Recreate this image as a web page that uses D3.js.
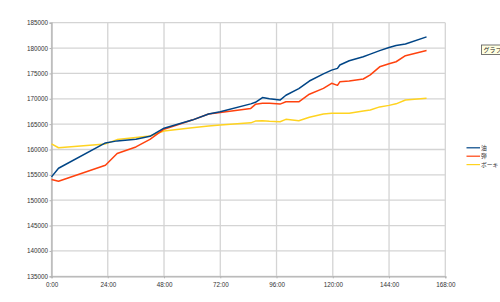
<!DOCTYPE html>
<html>
<head>
<meta charset="utf-8">
<script src="https://cdn.jsdelivr.net/npm/d3@7"></script>
<style>
  body { margin: 0; background: #fff; }
  svg { display: block; font-family: 'Liberation Sans', 'DejaVu Sans', sans-serif; }
</style>
</head>
<body>
<script>
// Data (hours, resource amounts)
const hours = [0, 3, 23, 28, 36, 42, 48, 60, 67, 72, 85, 87, 90, 93, 97.5, 100, 105.5, 110,
  116, 119.5, 122, 123, 127, 133, 136, 140, 144, 147, 151, 160];
const fuel = [154600, 156300, 161300, 161700, 162000, 162600, 164200, 165800, 167000, 167450,
  169000, 169300, 170250, 170000, 169750, 170700, 172000, 173500, 174900, 175650, 176000,
  176650, 177500, 178300, 178800, 179500, 180100, 180500, 180800, 182200];
const ammo = [154100, 153750, 156900, 159200, 160500, 162000, 164000, 165800, 167000, 167300,
  168100, 168900, 169100, 169100, 168950, 169400, 169400, 170900, 172050, 173050, 172650,
  173350, 173500, 173900, 174700, 176300, 176900, 177300, 178500, 179500];
const baux = [161100, 160350, 161100, 161950, 162350, 162650, 163650, 164300, 164650, 164850,
  165250, 165600, 165650, 165550, 165480, 165950, 165680, 166350, 167000, 167150, 167130,
  167130, 167150, 167600, 167800, 168400, 168700, 169000, 169750, 170100];
const seriesNames = ['油', '弾', 'ボーキ'];
const seriesColors = ['#004586', '#ff420e', '#ffd320'];
const xTicks = [0, 24, 48, 72, 96, 120, 144, 168];
const yTicks = [135000, 140000, 145000, 150000, 155000, 160000, 165000, 170000, 175000, 180000, 185000];

const width = 500, height = 302;
const svg = d3.select('body').append('svg').attr('width', width).attr('height', height);

const x = d3.scaleLinear().domain([0, 168]).range([51.5, 445.3]);
const y = d3.scaleLinear().domain([135000, 185000]).range([276.3, 22.7]);

// Grid lines
svg.append('g')
  .selectAll('line.h')
  .data(yTicks)
  .enter()
  .append('line')
  .attr('x1', x(0)).attr('x2', x(168))
  .attr('y1', (d) => y(d)).attr('y2', (d) => y(d))
  .attr('stroke', '#d4d4d4')
  .attr('stroke-width', 1.3);

svg.append('g')
  .selectAll('line.v')
  .data(xTicks)
  .enter()
  .append('line')
  .attr('x1', (d) => x(d)).attr('x2', (d) => x(d))
  .attr('y1', y(185000)).attr('y2', y(135000))
  .attr('stroke', '#d4d4d4')
  .attr('stroke-width', 1.3);

// Axes
const xAxis = d3.axisBottom(x)
  .tickValues(xTicks)
  .tickSize(2)
  .tickFormat((d) => d + ':00');
const yAxis = d3.axisLeft(y)
  .tickValues(yTicks)
  .tickSize(2)
  .tickFormat((d) => d);

const gx = svg.append('g').attr('transform', `translate(0,${y(135000)})`).call(xAxis);
const gy = svg.append('g').attr('transform', `translate(${x(0)},0)`).call(yAxis);
[gx, gy].forEach((g) => {
  g.select('.domain').attr('stroke', '#b3b3b3').attr('stroke-width', 1.3);
  g.selectAll('.tick line').attr('stroke', '#b3b3b3');
  g.selectAll('.tick text')
    .attr('fill', '#333')
    .style('font-size', '6.3px')
    .style('font-family', "'Liberation Sans', sans-serif");
});
gx.selectAll('.tick text').attr('dy', '0.95em');
gy.selectAll('.tick text').attr('x', -3.5);

// Lines (yellow drawn first, blue on top)
const series = [fuel, ammo, baux];
const line = d3.line()
  .x((d, i) => x(hours[i]))
  .y((d) => y(d));

series.slice().reverse().forEach((vals, k) => {
  const i = series.length - 1 - k;
  svg.append('path')
    .datum(vals)
    .attr('d', line)
    .attr('fill', 'none')
    .attr('stroke', seriesColors[i])
    .attr('stroke-width', 1.5)
    .attr('stroke-linejoin', 'round');
});

// Legend
const legendY = [147.8, 156.2, 164.6];
const legend = svg.append('g');
seriesNames.forEach((name, i) => {
  legend.append('line')
    .attr('x1', 466.5).attr('x2', 480)
    .attr('y1', legendY[i]).attr('y2', legendY[i])
    .attr('stroke', seriesColors[i])
    .attr('stroke-width', 1.2);
  legend.append('text')
    .attr('x', 481).attr('y', legendY[i])
    .attr('dy', '0.35em')
    .attr('fill', '#333')
    .style('font-size', '5.8px')
    .style('font-family', "'Noto Sans CJK JP', sans-serif")
    .text(name);
});

// Tooltip fragment on the right edge (cut off by the window, as in the reference)
const tip = svg.append('g');
tip.append('rect')
  .attr('x', 481.5).attr('y', 45)
  .attr('width', 30).attr('height', 9.5)
  .attr('fill', '#ffffe1')
  .attr('stroke', '#555')
  .attr('stroke-width', 0.8);
tip.append('text')
  .attr('x', 483.5).attr('y', 50)
  .attr('dy', '0.35em')
  .attr('fill', '#222')
  .style('font-size', '6px')
  .style('font-family', "'Noto Sans CJK JP', sans-serif")
  .text('グラフ');
</script>
</body>
</html>
